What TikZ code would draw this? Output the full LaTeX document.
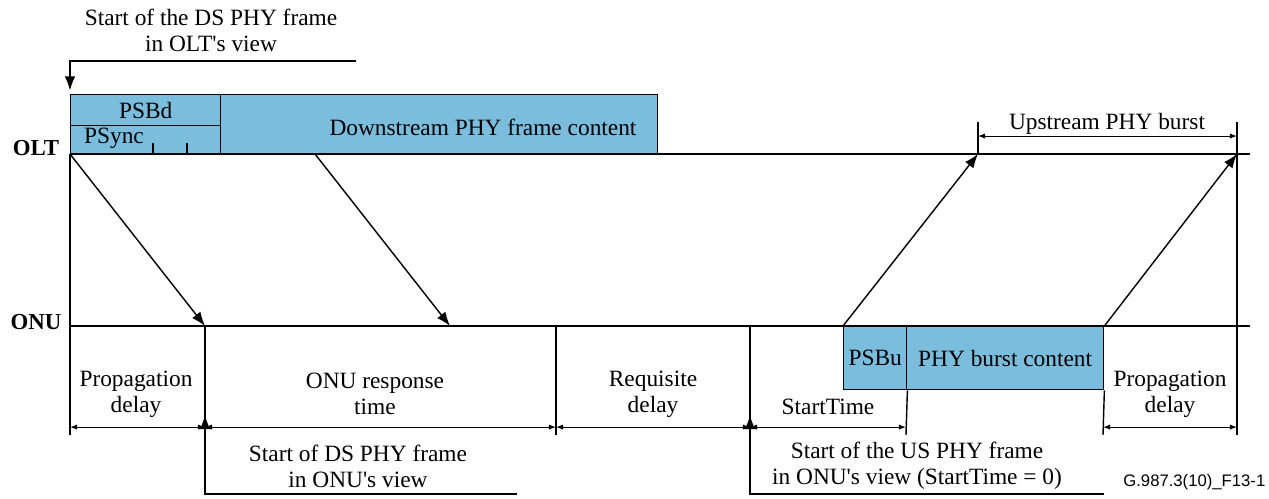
\documentclass[tikz,border=0pt]{standalone}
\usepackage{fontspec}
\setmainfont{Liberation Serif}
\setsansfont{Liberation Sans}
\usetikzlibrary{arrows.meta}
\definecolor{frameblue}{RGB}{123,189,221}

\begin{document}
\begin{tikzpicture}[
        x=0.02cm, y=-0.02cm,
        thick,
        font=\fontsize{13.3}{14.7}\selectfont,
        field/.style={draw=black, fill=frameblue, thick, inner sep=0pt, anchor=north west},
        timeline/.style={line width=1.7pt},
        dim/.style={{Latex[length=4pt,width=3pt]}-{Latex[length=4pt,width=3pt]}, line width=0.6pt},
        ptr/.style={-{Latex[length=8pt,width=6pt]}, line width=0.8pt},
        lbl/.style={align=center, inner sep=0pt},
        side/.style={font=\fontsize{13}{14}\selectfont\bfseries, inner sep=0pt}]
        \useasboundingbox (0,0) rectangle (1269,499);
        % FIELDS
        % downstream PHY frame
        \node[field, minimum width=3.0cm, minimum height=0.62cm] (psbd) at (70,94) {PSBd};
        \node[field, minimum width=3.0cm, minimum height=0.58cm] (psync) at (70,125) {};
        \node[inner sep=0pt] (psynclbl) at (114,138) {PSync};
        \node[field, minimum width=8.74cm, minimum height=1.2cm] (dsc) at (220,94) {};
        \node[inner sep=0pt] (dsclbl) at (483,127) {Downstream PHY frame content};
        % upstream PHY burst
        \node[field, minimum width=1.26cm, minimum height=1.26cm] (psbu) at (843,326) {PSBu};
        \node[field, minimum width=3.94cm, minimum height=1.26cm] (pbc) at (906,326) {PHY burst content};
        % PSync ticks
        \coordinate (tickA) at (153,143);
        \coordinate (tickB) at (187,143);
        \draw (tickA) -- (tickA |- psync.south);
        \draw (tickB) -- (tickB |- psync.south);

        % TIMELINES
        \coordinate (oltA) at (70,154);
        \coordinate (oltB) at (1250,154);
        \coordinate (onuA) at (70,326);
        \coordinate (onuB) at (1250,326);
        \node[side] (OLT) at (36,148) {OLT};
        \node[side] (ONU) at (36,322) {ONU};
        \draw[timeline] (oltA) -- (oltB);
        \draw[timeline] (onuA) -- (onuB);

        % points on the lines
        \coordinate (dsB) at (315,154);
        \coordinate (onuP) at (205,326);
        \coordinate (onuQ) at (450,326);
        \coordinate (usA) at (978,154);
        \coordinate (usB) at (1237,154);
        % bottom ends of the marks
        \coordinate (m0) at (70,435);
        \coordinate (m1) at (205,435);
        \coordinate (m2) at (556,435);
        \coordinate (m3) at (750,435);
        \coordinate (m4) at (906,435);
        \coordinate (m5) at (1103,435);
        \coordinate (m6) at (1237,435);
        \coordinate (uA) at (978,122);
        \coordinate (uB) at (1237,122);

        % MARKS
        \draw (oltA) -- (m0);
        \draw (onuP) -- (m1);
        \draw (m2 |- onuA) -- (m2);
        \draw (m3 |- onuA) -- (m3);
        \draw (psbu.south east) -- (m4);
        \draw (pbc.south east) -- (m5);
        \draw (uB) -- (m6);
        \draw (uA) -- (usA);

        % ARROWS
        \draw[ptr] (oltA) -- (onuP);
        \draw[ptr] (dsB) -- (onuQ);
        \draw[ptr] (psbu.north west) -- (usA);
        \draw[ptr] (pbc.north east) -- (usB);

        % DIMENSIONS
        \draw[dim] ([yshift=-8pt]uA) -- ([yshift=-8pt]uB);
        \draw[dim] ([yshift=4.5pt]m0) -- ([yshift=4.5pt]m1);
        \draw[dim] ([yshift=4.5pt]m1) -- ([yshift=4.5pt]m2);
        \draw[dim] ([yshift=4.5pt]m2) -- ([yshift=4.5pt]m3);
        \draw[dim] ([yshift=4.5pt]m3) -- ([yshift=4.5pt]m4);
        \draw[dim] ([yshift=4.5pt]m5) -- ([yshift=4.5pt]m6);
        \node[lbl] (burst) at (1107,124) {Upstream PHY burst};
        \node[lbl] (prop1) at (136,394) {Propagation\\delay};
        \node[lbl] (resp) at (375,394) {ONU response\\time};
        \node[lbl] (req) at (653,394) {Requisite\\delay};
        \node[lbl] (stime) at (828,407) {StartTime};
        \node[lbl] (prop2) at (1170,394) {Propagation\\delay};

        % POINTERS
        \node[lbl] (oltview) at (211,30) {Start of the DS PHY frame\\in OLT\textquotesingle s view};
        \coordinate (oltviewEnd) at (356,61);
        \draw[ptr, shorten >=2pt] (oltviewEnd) -| (psbd.north west);
        \node[lbl] (onuview) at (358,466) {Start of DS PHY frame\\in ONU\textquotesingle s view};
        \coordinate (onuviewEnd) at (517,494);
        \coordinate (onuviewTip) at (205,415);
        \draw[ptr] (onuviewEnd) -| (onuviewTip);
        \node[lbl] (usview) at (917,466) {Start of the US PHY frame\\in ONU\textquotesingle s view (StartTime = 0)};
        \coordinate (usviewEnd) at (1104,494);
        \coordinate (usviewTip) at (750,415);
        \draw[ptr] (usviewEnd) -| (usviewTip);

        % figure id
        \node[anchor=east, inner sep=0pt, font=\sffamily\fontsize{9.5}{11}\selectfont] (figid) at (1266,482) {G.987.3(10)\_F13-1};
    \end{tikzpicture}
\end{document}
